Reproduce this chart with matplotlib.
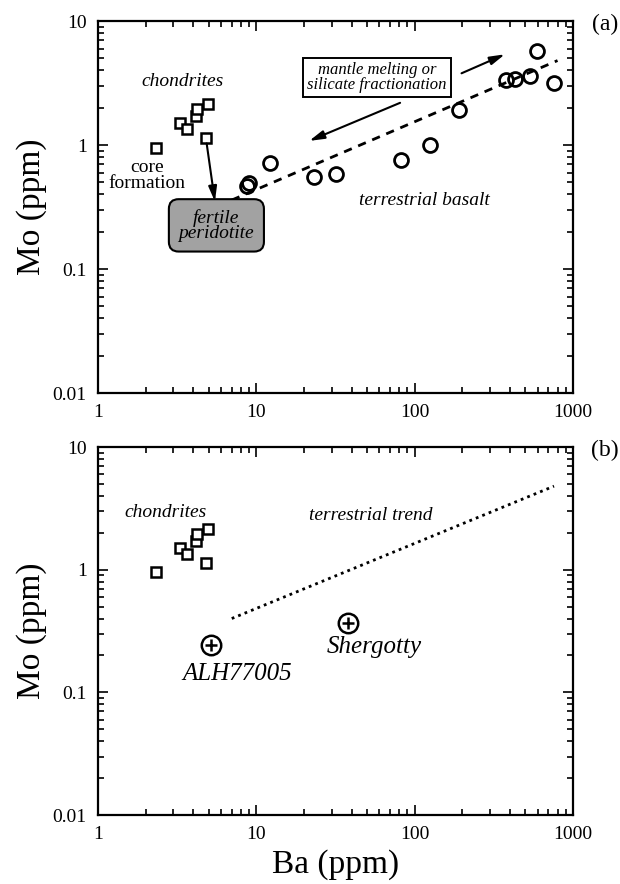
import matplotlib
matplotlib.use('Agg')
import matplotlib.pyplot as plt
from matplotlib.ticker import FuncFormatter, LogLocator, NullFormatter

plt.rcParams['font.family'] = ['Liberation Serif', 'DejaVu Serif']

# chondrite analyses (same in both panels)
chon_ba = [2.32, 3.3, 3.67, 4.16, 4.24, 4.98, 4.81]
chon_mo = [0.95, 1.51, 1.34, 1.73, 1.94, 2.13, 1.13]

# terrestrial basalts
basalt_ba = [8.7, 9.0, 12.3, 23.1, 31.9, 82, 125, 191, 376, 431, 536, 590, 763]
basalt_mo = [0.47, 0.49, 0.71, 0.55, 0.58, 0.76, 1.0, 1.92, 3.34, 3.41, 3.6, 5.73, 3.18]

# terrestrial trend line
trend_ba = [7.0, 800]
trend_mo = [0.36, 4.8]
trend_ba_b = [7.0, 760]
trend_mo_b = [0.40, 4.8]

# martian meteorites
mars_names = ['ALH77005', 'Shergotty']
mars_ba = [5.2, 37.8]
mars_mo = [0.245, 0.37]

ticks_x = [1, 10, 100, 1000]
ticks_y = [0.01, 0.1, 1, 10]


def setup(ax):
    ax.set_xscale('log')
    ax.set_yscale('log')
    ax.set_xlim(1, 1000)
    ax.set_ylim(0.01, 10)
    ax.set_xticks(ticks_x)
    ax.set_yticks(ticks_y)
    fmt = FuncFormatter(lambda v, _: f'{v:g}')
    ax.xaxis.set_major_formatter(fmt)
    ax.yaxis.set_major_formatter(fmt)
    for axis in (ax.xaxis, ax.yaxis):
        axis.set_minor_locator(LogLocator(base=10, subs=range(2, 10)))
        axis.set_minor_formatter(NullFormatter())
    ax.tick_params(which='both', direction='in', top=True, right=True,
                   width=1.2, labelsize=14, pad=8)
    ax.tick_params(which='major', length=7)
    ax.tick_params(which='minor', length=4)
    for s in ax.spines.values():
        s.set_linewidth(1.6)
    ax.set_ylabel('Mo (ppm)', fontsize=24, labelpad=4)


fig = plt.figure(figsize=(6.2, 8.84), dpi=100)
ax1 = fig.add_axes([0.158, 0.5554, 0.766, 0.4208])
ax2 = fig.add_axes([0.158, 0.078, 0.766, 0.4163])

# ---- panel (a)
setup(ax1)
ax1.plot(trend_ba, trend_mo, color='k', lw=2, ls=(0, (3, 2.5)))
ax1.plot(chon_ba, chon_mo, 's', ms=7, mfc='white', mec='k', mew=1.8, ls='none')
ax1.plot(basalt_ba, basalt_mo, 'o', ms=10, mfc='none', mec='k', mew=2, ls='none')

ax1.text(3.43, 3.24, 'chondrites', style='italic', fontsize=14, ha='center', va='center')
ax1.text(2.03, 0.57, 'core\nformation', fontsize=14, ha='center', va='center',
         linespacing=0.9)
ax1.text(116, 0.355, 'terrestrial basalt', style='italic', fontsize=14,
         ha='center', va='center')
ax1.text(5.6, 0.225, 'fertile\nperidotite', style='italic', fontsize=14,
         ha='center', va='center', linespacing=0.85,
         bbox=dict(boxstyle='round,pad=0.5,rounding_size=0.5',
                   fc='#a2a2a2', ec='k', lw=1.5))
ax1.text(58, 3.5, 'mantle melting or\nsilicate fractionation', style='italic',
         fontsize=12, ha='center', va='center', linespacing=0.95,
         bbox=dict(boxstyle='square,pad=0.25', fc='white', ec='k', lw=1.4))

arrow = dict(arrowstyle='-|>,head_length=0.9,head_width=0.25', color='k',
             lw=1.5, shrinkA=0, shrinkB=0)
ax1.annotate('', xy=(5.48, 0.35), xytext=(4.86, 1.03), arrowprops=arrow)
ax1.annotate('', xy=(372, 5.39), xytext=(198, 3.79), arrowprops=arrow)
ax1.annotate('', xy=(21.6, 1.08), xytext=(81, 2.19), arrowprops=arrow)

ax1.text(1.067, 0.99, '(a)', transform=ax1.transAxes, fontsize=17,
         ha='center', va='center')

# ---- panel (b)
setup(ax2)
ax2.plot(trend_ba_b, trend_mo_b, color='k', lw=2, ls=(0, (1, 1.5)))
ax2.plot(chon_ba, chon_mo, 's', ms=7, mfc='white', mec='k', mew=1.8, ls='none')
ax2.plot(mars_ba, mars_mo, 'o', ms=14, mfc='none', mec='k', mew=1.8, ls='none')
ax2.plot(mars_ba, mars_mo, '+', ms=8, mec='k', mew=1.8, ls='none')

ax2.text(2.69, 2.94, 'chondrites', style='italic', fontsize=14, ha='center', va='center')
ax2.text(52.8, 2.75, 'terrestrial trend', style='italic', fontsize=14,
         ha='center', va='center')
ax2.text(7.6, 0.172, mars_names[0], style='italic', fontsize=18, ha='center', va='top')
ax2.text(56, 0.29, mars_names[1], style='italic', fontsize=18, ha='center', va='top')
ax2.text(1.067, 0.99, '(b)', transform=ax2.transAxes, fontsize=17,
         ha='center', va='center')
ax2.set_xlabel('Ba (ppm)', fontsize=24, labelpad=4)

fig.savefig('out.png', dpi=100)
